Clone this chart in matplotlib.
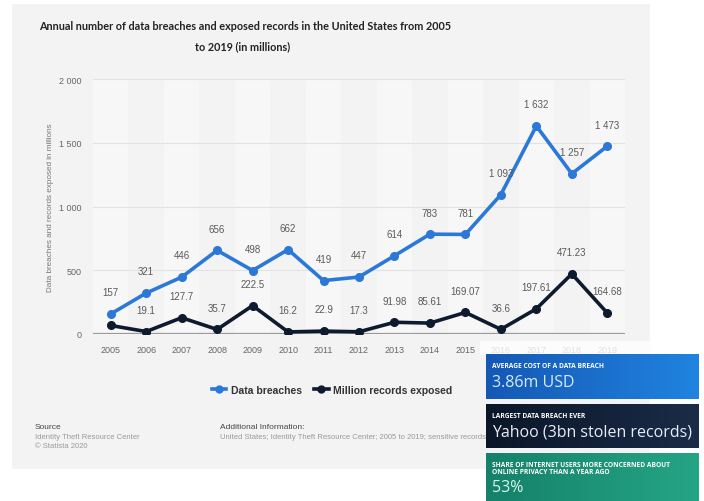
import numpy as np
import matplotlib
matplotlib.use("Agg")
import matplotlib.pyplot as plt
from matplotlib.patches import Rectangle
from matplotlib.lines import Line2D

years = [str(y) for y in range(2005, 2020)]
breaches = [157, 321, 446, 656, 498, 662, 419, 447, 614, 783, 781, 1093, 1632, 1257, 1473]
records = [66.9, 19.1, 127.7, 35.7, 222.5, 16.2, 22.9, 17.3, 91.98, 85.61, 169.07, 36.6, 197.61, 471.23, 164.68]
breach_labels = ["157", "321", "446", "656", "498", "662", "419", "447", "614", "783", "781",
                 "1 093", "1 632", "1 257", "1 473"]
record_labels = ["", "19.1", "127.7", "35.7", "222.5", "16.2", "22.9", "17.3", "91.98", "85.61",
                 "169.07", "36.6", "197.61", "471.23", "164.68"]
yticks = [0, 500, 1000, 1500, 2000]
ytick_labels = ["0", "500", "1 000", "1 500", "2 000"]

W, H = 704, 502
plt.rcParams["font.family"] = ["Liberation Sans", "DejaVu Sans"]

def fx(x):
    return x / W

def fy(y):
    return 1 - y / H

fig = plt.figure(figsize=(W / 100, H / 100), dpi=100, facecolor="white")

# grey card behind the chart
fig.patches.append(Rectangle((fx(12), fy(470)), fx(650) - fx(12), fy(5) - fy(470),
                             transform=fig.transFigure, facecolor="#f3f3f3",
                             edgecolor="none", zorder=-5))

ax = fig.add_axes([fx(93), fy(335), fx(625) - fx(93), fy(80) - fy(335)], zorder=1)
ax.set_facecolor("none")
x = np.arange(len(years))

# light column stripes
for i in x[::2]:
    ax.axvspan(i - 0.5, i + 0.5, color="white", alpha=0.35, lw=0, zorder=0)

for t in yticks[1:]:
    ax.axhline(t, color="#e2e2e2", lw=0.8, zorder=1)
ax.axhline(0, color="#9a9a9a", lw=1.6, zorder=2)

blue = "#2b78d8"
dark = "#0e1b2e"
ax.plot(x, breaches, color=blue, lw=2.6, marker="o", ms=5.5, zorder=4)
ax.plot(x, records, color=dark, lw=2.6, marker="o", ms=5.5, zorder=3)

for xi, v, lab in zip(x, breaches, breach_labels):
    ax.annotate(lab, (xi, v), xytext=(0, 12), textcoords="offset points",
                ha="center", va="bottom", fontsize=7, color="#5a5a5a", zorder=5)
for xi, v, lab in zip(x, records, record_labels):
    if lab:
        ax.annotate(lab, (xi, v), xytext=(0, 12), textcoords="offset points",
                    ha="center", va="bottom", fontsize=7, color="#5a5a5a", zorder=5)

ax.set_xlim(-0.5, len(years) - 0.5)
ax.set_ylim(0, 2000)
ax.set_xticks(x)
ax.set_xticklabels(years, fontsize=6.5, color="#666666")
ax.set_yticks(yticks)
ax.set_yticklabels(ytick_labels, fontsize=6.5, color="#666666")
ax.tick_params(length=0, pad=8)
for s in ax.spines.values():
    s.set_visible(False)
ax.set_ylabel("Data breaches and records exposed in millions", fontsize=5.9,
              color="#777777", labelpad=4)

title_font = ["Lato", "Liberation Sans", "DejaVu Sans"]
fig.text(fx(245), fy(26), "Annual number of data breaches and exposed records in the United States from 2005",
         ha="center", va="center", fontsize=7.8, fontweight="bold", color="#222222", family=title_font)
fig.text(fx(243), fy(47), "to 2019 (in millions)", ha="center", va="center",
         fontsize=7.8, fontweight="bold", color="#222222", family=title_font)

handles = [Line2D([], [], color=blue, lw=2.6, marker="o", ms=5),
           Line2D([], [], color=dark, lw=2.6, marker="o", ms=5)]
fig.legend(handles, ["Data breaches", "Million records exposed"], loc="center",
           bbox_to_anchor=(fx(332), fy(391)), ncol=2, frameon=False,
           handlelength=1.4, columnspacing=1.2, handletextpad=0.4,
           prop={"weight": "bold", "size": 7.5})
for t in fig.legends[0].get_texts():
    t.set_color("#333333")

fig.text(fx(35), fy(428), "Source", fontsize=6, color="#444444", va="center")
fig.text(fx(35), fy(438), "Identity Theft Resource Center", fontsize=5.5, color="#999999", va="center")
fig.text(fx(35), fy(447), "\u00a9 Statista 2020", fontsize=5.5, color="#999999", va="center")
fig.text(fx(220), fy(428), "Additional Information:", fontsize=6, color="#444444", va="center")
fig.text(fx(220), fy(438), "United States; Identity Theft Resource Center; 2005 to 2019; sensitive records",
         fontsize=5.5, color="#999999", va="center")

# soft white glow above the info boxes
fig.patches.append(Rectangle((fx(480), fy(356)), fx(704) - fx(480), fy(342) - fy(356),
                             transform=fig.transFigure, facecolor="white", alpha=0.8,
                             edgecolor="none", zorder=5))

# info boxes on the right
boxes = [
    (355, 400, "#1458b4", "#2084e0", ["AVERAGE COST OF A DATA BREACH"], "3.86m USD", "#d6ebff"),
    (405, 449, "#0b1628", "#1b2c48", ["LARGEST DATA BREACH EVER"], "Yahoo (3bn stolen records)", "#e8eef6"),
    (454, 502, "#15816a", "#25a585", ["SHARE OF INTERNET USERS MORE CONCERNED ABOUT",
                                      "ONLINE PRIVACY THAN A YEAR AGO"], "53%", "#d9f5ec"),
]
grad = np.linspace(0, 1, 256).reshape(1, -1)
for top, bottom, c0, c1, heads, value, vcol in boxes:
    bax = fig.add_axes([fx(486), fy(bottom), fx(699) - fx(486), fy(top) - fy(bottom)], zorder=10)
    cmap = matplotlib.colors.LinearSegmentedColormap.from_list("g", [c0, c1])
    bax.imshow(grad, aspect="auto", cmap=cmap, extent=[0, 1, 0, 1])
    bax.set_axis_off()
    yy = top + 12
    for h in heads:
        fig.text(fx(492), fy(yy), h, fontsize=4.8, fontweight="bold", color="white",
                 va="center", zorder=11, family=["Open Sans", "DejaVu Sans"])
        yy += 6
    fig.text(fx(492), fy(yy + 10), value, fontsize=11.5, color=vcol, va="center",
             zorder=11, family=["Open Sans", "DejaVu Sans"])

fig.savefig("out.png", dpi=100, facecolor="white")
